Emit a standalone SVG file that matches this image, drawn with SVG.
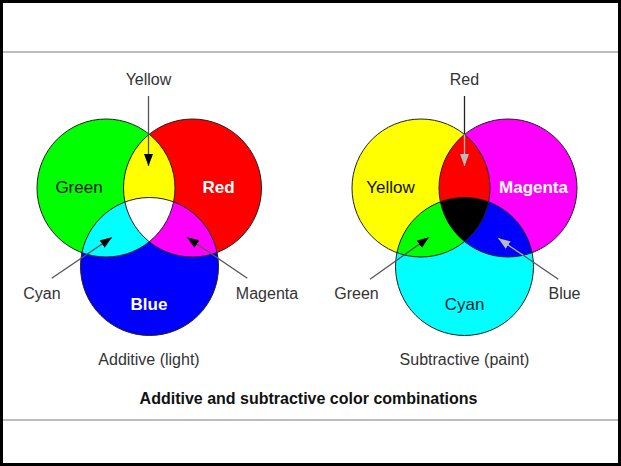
<svg xmlns="http://www.w3.org/2000/svg" width="621" height="466" viewBox="0 0 621 466">
<style>
text{font-family:"Liberation Sans",Arial,sans-serif;text-anchor:middle}
.lbl{font-size:16px;fill:#333}
.in{font-size:17px}
.wb{fill:#fff;font-weight:bold}
.dk{fill:#111}
.ttl{font-size:16px;font-weight:bold;fill:#111}
.ring{fill:none;stroke:#222;stroke-width:1}
.ln{stroke:#555;stroke-width:1.3;fill:none}
.lnL{stroke:#bbb;stroke-width:1.3;fill:none}
.sep{stroke:#bdbdbd;stroke-width:2}
</style>
<defs>
<marker id="ah" markerUnits="userSpaceOnUse" markerWidth="13" markerHeight="10" refX="12" refY="4.5" orient="auto"><path d="M0,0 L12,4.5 L0,9 z" fill="#000"/></marker>
<marker id="ahL" markerUnits="userSpaceOnUse" markerWidth="13" markerHeight="10" refX="12" refY="4.5" orient="auto"><path d="M0,0 L12,4.5 L0,9 z" fill="#bbb"/></marker>
<clipPath id="cG"><circle cx="106" cy="188" r="69"/></clipPath>
<clipPath id="cR"><circle cx="192.5" cy="188" r="69"/></clipPath>
<clipPath id="cB"><circle cx="149.5" cy="266.5" r="69"/></clipPath>
<clipPath id="cY"><circle cx="421" cy="188" r="69"/></clipPath>
<clipPath id="cM"><circle cx="508" cy="188" r="69"/></clipPath>
<clipPath id="cC"><circle cx="464.5" cy="266.5" r="69"/></clipPath>
</defs>
<rect x="0" y="0" width="621" height="466" fill="#fff"/>
<rect x="1.5" y="1.5" width="618" height="463" fill="none" stroke="#000" stroke-width="3"/>
<line class="sep" x1="3" y1="52" x2="618" y2="52"/>
<line class="sep" x1="3" y1="420" x2="618" y2="420"/>

<g id="additive">
<g id="green"><circle cx="106" cy="188" r="69" fill="#00ff00"/></g>
<g id="red"><circle cx="192.5" cy="188" r="69" fill="#ff0000"/></g>
<g id="blue"><circle cx="149.5" cy="266.5" r="69" fill="#0000ff"/></g>
<g id="yellow-add" clip-path="url(#cG)"><circle cx="192.5" cy="188" r="69" fill="#ffff00"/></g>
<g id="cyan-add" clip-path="url(#cG)"><circle cx="149.5" cy="266.5" r="69" fill="#00ffff"/></g>
<g id="magenta-add" clip-path="url(#cR)"><circle cx="149.5" cy="266.5" r="69" fill="#ff00ff"/></g>
<g id="white-add" clip-path="url(#cG)"><g clip-path="url(#cR)"><circle cx="149.5" cy="266.5" r="69" fill="#fff"/></g></g>
<circle class="ring" cx="106" cy="188" r="69"/>
<circle class="ring" cx="192.5" cy="188" r="69"/>
<circle class="ring" cx="149.5" cy="266.5" r="69"/>
<text class="in dk" x="79" y="193">Green</text>
<text class="in wb" x="218.5" y="193">Red</text>
<text class="in wb" x="149" y="310">Blue</text>
</g>

<g id="subtractive">
<g id="yellow"><circle cx="421" cy="188" r="69" fill="#ffff00"/></g>
<g id="magenta"><circle cx="508" cy="188" r="69" fill="#ff00ff"/></g>
<g id="cyan"><circle cx="464.5" cy="266.5" r="69" fill="#00ffff"/></g>
<g id="red-sub" clip-path="url(#cY)"><circle cx="508" cy="188" r="69" fill="#ff0000"/></g>
<g id="green-sub" clip-path="url(#cY)"><circle cx="464.5" cy="266.5" r="69" fill="#00ff00"/></g>
<g id="blue-sub" clip-path="url(#cM)"><circle cx="464.5" cy="266.5" r="69" fill="#0000ff"/></g>
<g id="black-sub" clip-path="url(#cY)"><g clip-path="url(#cM)"><circle cx="464.5" cy="266.5" r="69" fill="#000"/></g></g>
<circle class="ring" cx="421" cy="188" r="69"/>
<circle class="ring" cx="508" cy="188" r="69"/>
<circle class="ring" cx="464.5" cy="266.5" r="69"/>
<text class="in dk" x="390.5" y="193">Yellow</text>
<text class="in wb" x="533.5" y="193">Magenta</text>
<text class="in" x="464.5" y="310" fill="#123">Cyan</text>
</g>

<g id="connectors">
<line class="ln" x1="148.5" y1="96" x2="148.5" y2="166" marker-end="url(#ah)"/>
<line class="ln" x1="51.7" y1="278.3" x2="112" y2="237.3" marker-end="url(#ah)"/>
<line class="ln" x1="247.3" y1="278.3" x2="187" y2="237.3" marker-end="url(#ah)"/>
<line x1="464.5" y1="96" x2="464.5" y2="134.5" stroke="#222" stroke-width="1.3"/>
<line class="lnL" x1="464.5" y1="134.5" x2="464.5" y2="166" marker-end="url(#ahL)"/>
<line class="ln" x1="370" y1="279.3" x2="429" y2="237.3" marker-end="url(#ah)"/>
<line class="ln" x1="558.3" y1="279.3" x2="523.2" y2="255.3"/>
<line class="lnL" x1="523.2" y1="255.3" x2="498.3" y2="238.3" marker-end="url(#ahL)"/>
</g>

<g id="labels">
<text class="lbl" x="148.5" y="85">Yellow</text>
<text class="lbl" x="42" y="299">Cyan</text>
<text class="lbl" x="267" y="299">Magenta</text>
<text class="lbl" x="149" y="365">Additive (light)</text>
<text class="lbl" x="464.5" y="85">Red</text>
<text class="lbl" x="356.5" y="299">Green</text>
<text class="lbl" x="564.5" y="299">Blue</text>
<text class="lbl" x="464.5" y="365">Subtractive (paint)</text>
<text class="ttl" x="308.5" y="404">Additive and subtractive color combinations</text>
</g>
</svg>
